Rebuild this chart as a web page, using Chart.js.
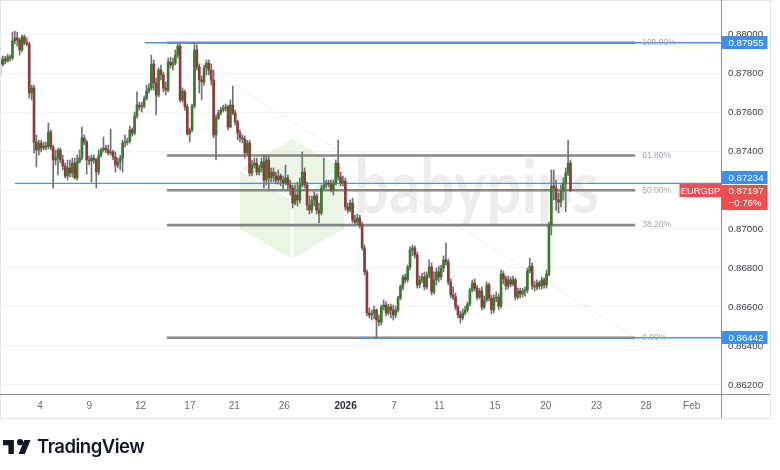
<!DOCTYPE html>
<html><head><meta charset="utf-8">
<script src="https://cdn.jsdelivr.net/npm/chart.js@4.4.1/dist/chart.umd.min.js"></script>
<style>
html,body{margin:0;padding:0;background:#fff;}
#wrap{position:relative;width:780px;height:470px;overflow:hidden;}
#c{position:absolute;left:0;top:0;}
#tv{position:absolute;left:3px;top:434px;height:24px;display:flex;align-items:center;color:#131722;}
#tv span{font-family:"Inter","Open Sans",sans-serif;font-weight:600;font-size:18.5px;letter-spacing:-0.5px;margin-left:6px;}
</style></head><body>
<div id="wrap">
<canvas id="c" width="780" height="470"></canvas>
<div id="tv"><svg width="28" height="15" viewBox="0 3 36 19"><path fill="#131722" d="M14 22H7V11H0V4h14v18zm8-11a4 4 0 1 0 0-8 4 4 0 0 0 0 8zM28 22h-8l7.5-18h8L28 22z"/></svg><span>TradingView</span></div>
</div>
<script>
// ---- candle data (EURGBP, intraday) ----
const openP = [
0.87867,0.87846,0.87872,0.87862,0.87882,0.87877,0.87964,0.87980,0.87969,0.87918,
0.87985,0.87954,0.87949,0.87697,0.87723,0.87446,0.87405,0.87441,0.87415,0.87426,
0.87421,0.87497,0.87421,0.87354,0.87364,0.87405,0.87354,0.87323,0.87272,0.87313,
0.87287,0.87338,0.87262,0.87344,0.87364,0.87467,0.87446,0.87354,0.87349,0.87364,
0.87354,0.87292,0.87379,0.87405,0.87415,0.87405,0.87390,0.87395,0.87369,0.87328,
0.87344,0.87364,0.87441,0.87446,0.87451,0.87508,0.87492,0.87580,0.87636,0.87626,
0.87631,0.87667,0.87708,0.87723,0.87846,0.87749,0.87687,0.87815,0.87790,0.87723,
0.87713,0.87856,0.87841,0.87851,0.87892,0.87938,0.87662,0.87703,0.87626,0.87487,
0.87508,0.87631,0.87918,0.87831,0.87764,0.87754,0.87826,0.87851,0.87815,0.87764,
0.87482,0.87569,0.87595,0.87610,0.87620,0.87626,0.87523,0.87636,0.87595,0.87549,
0.87492,0.87467,0.87462,0.87390,0.87441,0.87287,0.87328,0.87338,0.87292,0.87313,
0.87344,0.87251,0.87354,0.87262,0.87292,0.87272,0.87251,0.87272,0.87251,0.87236,
0.87262,0.87226,0.87210,0.87133,0.87174,0.87149,0.87226,0.87292,0.87226,0.87123,
0.87097,0.87149,0.87169,0.87097,0.87082,0.87210,0.87226,0.87236,0.87231,0.87200,
0.87236,0.87338,0.87267,0.87236,0.87246,0.87113,0.87097,0.87133,0.87046,0.87036,
0.87056,0.87021,0.86903,0.86780,0.86569,0.86559,0.86569,0.86585,0.86533,0.86523,
0.86600,0.86610,0.86569,0.86600,0.86585,0.86559,0.86585,0.86646,0.86703,0.86754,
0.86739,0.86805,0.86892,0.86903,0.86867,0.86713,0.86739,0.86754,0.86703,0.86764,
0.86805,0.86677,0.86739,0.86780,0.86754,0.86800,0.86841,0.86831,0.86728,0.86662,
0.86651,0.86600,0.86559,0.86544,0.86569,0.86585,0.86615,0.86687,0.86723,0.86697,
0.86651,0.86682,0.86600,0.86636,0.86713,0.86646,0.86585,0.86646,0.86651,0.86605,
0.86769,0.86744,0.86708,0.86739,0.86718,0.86739,0.86651,0.86682,0.86667,0.86682,
0.86687,0.86785,0.86810,0.86708,0.86703,0.86723,0.86708,0.86739,0.86713,0.86769,
0.87021,0.87221,0.87210,0.87149,0.87138,0.87195,0.87236,0.87287,0.87338];
const highP = [
0.87882,0.87887,0.87887,0.87897,0.87892,0.88010,0.88015,0.88010,0.87980,0.87995,
0.87995,0.87980,0.87959,0.87738,0.87738,0.87482,0.87456,0.87456,0.87446,0.87446,
0.87544,0.87508,0.87431,0.87405,0.87415,0.87415,0.87379,0.87338,0.87354,0.87354,
0.87364,0.87364,0.87379,0.87405,0.87523,0.87482,0.87456,0.87374,0.87379,0.87379,
0.87364,0.87405,0.87415,0.87472,0.87431,0.87431,0.87513,0.87405,0.87395,0.87364,
0.87379,0.87456,0.87482,0.87467,0.87528,0.87518,0.87600,0.87703,0.87651,0.87651,
0.87682,0.87738,0.87744,0.87892,0.87867,0.87774,0.87826,0.87841,0.87805,0.87754,
0.87877,0.87882,0.87877,0.87918,0.87949,0.87949,0.87723,0.87713,0.87641,0.87518,
0.87641,0.87955,0.87944,0.87846,0.87785,0.87841,0.87867,0.87867,0.87846,0.87815,
0.87585,0.87610,0.87626,0.87636,0.87641,0.87636,0.87662,0.87733,0.87610,0.87559,
0.87508,0.87482,0.87477,0.87456,0.87456,0.87354,0.87364,0.87364,0.87328,0.87364,
0.87379,0.87379,0.87374,0.87313,0.87313,0.87292,0.87303,0.87282,0.87272,0.87328,
0.87277,0.87251,0.87226,0.87226,0.87241,0.87262,0.87395,0.87313,0.87241,0.87169,
0.87169,0.87190,0.87180,0.87133,0.87226,0.87364,0.87251,0.87251,0.87251,0.87251,
0.87354,0.87456,0.87292,0.87272,0.87262,0.87133,0.87149,0.87159,0.87072,0.87077,
0.87072,0.87036,0.86918,0.86790,0.86595,0.86585,0.86605,0.86590,0.86559,0.86610,
0.86636,0.86626,0.86615,0.86615,0.86610,0.86605,0.86656,0.86713,0.86764,0.86769,
0.86815,0.86908,0.86918,0.86913,0.86882,0.86759,0.86774,0.86780,0.86780,0.86841,
0.86826,0.86780,0.86800,0.86810,0.86815,0.86862,0.86928,0.86846,0.86744,0.86703,
0.86672,0.86610,0.86580,0.86590,0.86605,0.86626,0.86697,0.86739,0.86744,0.86713,
0.86697,0.86703,0.86656,0.86728,0.86723,0.86662,0.86662,0.86677,0.86667,0.86790,
0.86785,0.86759,0.86759,0.86754,0.86759,0.86749,0.86697,0.86697,0.86697,0.86703,
0.86800,0.86851,0.86826,0.86733,0.86739,0.86733,0.86754,0.86749,0.86790,0.87036,
0.87303,0.87303,0.87251,0.87185,0.87226,0.87262,0.87313,0.87456,0.87354];
const lowP = [
0.87790,0.87836,0.87846,0.87856,0.87862,0.87867,0.87949,0.87938,0.87892,0.87908,
0.87944,0.87938,0.87672,0.87662,0.87390,0.87318,0.87379,0.87395,0.87405,0.87405,
0.87410,0.87405,0.87210,0.87328,0.87277,0.87338,0.87303,0.87262,0.87251,0.87267,
0.87267,0.87256,0.87251,0.87338,0.87354,0.87431,0.87282,0.87328,0.87241,0.87338,
0.87210,0.87277,0.87369,0.87395,0.87390,0.87379,0.87379,0.87354,0.87292,0.87313,
0.87303,0.87292,0.87421,0.87431,0.87441,0.87477,0.87482,0.87569,0.87610,0.87600,
0.87620,0.87662,0.87697,0.87713,0.87713,0.87585,0.87677,0.87764,0.87703,0.87687,
0.87703,0.87826,0.87815,0.87841,0.87877,0.87651,0.87651,0.87610,0.87482,0.87446,
0.87497,0.87620,0.87815,0.87697,0.87662,0.87738,0.87790,0.87790,0.87738,0.87467,
0.87354,0.87559,0.87585,0.87600,0.87605,0.87508,0.87518,0.87585,0.87533,0.87456,
0.87446,0.87441,0.87364,0.87379,0.87272,0.87272,0.87313,0.87277,0.87277,0.87292,
0.87210,0.87226,0.87200,0.87241,0.87241,0.87231,0.87231,0.87221,0.87200,0.87226,
0.87200,0.87174,0.87108,0.87123,0.87118,0.87133,0.87215,0.87210,0.87097,0.87077,
0.87082,0.87118,0.87077,0.87031,0.87072,0.87200,0.87210,0.87215,0.87190,0.87174,
0.87226,0.87251,0.87221,0.87221,0.87097,0.87082,0.87087,0.87031,0.87021,0.87021,
0.87005,0.86892,0.86764,0.86554,0.86544,0.86533,0.86539,0.86442,0.86503,0.86508,
0.86585,0.86554,0.86559,0.86544,0.86533,0.86544,0.86574,0.86636,0.86687,0.86723,
0.86728,0.86790,0.86862,0.86851,0.86697,0.86697,0.86723,0.86687,0.86692,0.86749,
0.86662,0.86667,0.86713,0.86728,0.86739,0.86780,0.86815,0.86713,0.86646,0.86636,
0.86585,0.86544,0.86518,0.86533,0.86559,0.86574,0.86605,0.86677,0.86682,0.86636,
0.86641,0.86585,0.86590,0.86626,0.86631,0.86564,0.86569,0.86626,0.86585,0.86595,
0.86718,0.86687,0.86692,0.86703,0.86708,0.86636,0.86641,0.86646,0.86651,0.86656,
0.86672,0.86774,0.86692,0.86682,0.86687,0.86692,0.86692,0.86697,0.86697,0.86759,
0.86969,0.87149,0.87097,0.87082,0.87113,0.87149,0.87087,0.87272,0.87190];
const closeP = [
0.87846,0.87872,0.87862,0.87882,0.87877,0.87964,0.87980,0.87969,0.87918,0.87985,
0.87954,0.87949,0.87697,0.87723,0.87446,0.87405,0.87441,0.87415,0.87426,0.87421,
0.87497,0.87421,0.87354,0.87364,0.87405,0.87354,0.87323,0.87272,0.87313,0.87287,
0.87338,0.87262,0.87344,0.87364,0.87467,0.87446,0.87354,0.87349,0.87364,0.87354,
0.87292,0.87379,0.87405,0.87415,0.87405,0.87390,0.87395,0.87369,0.87328,0.87344,
0.87364,0.87441,0.87446,0.87451,0.87508,0.87492,0.87580,0.87636,0.87626,0.87631,
0.87667,0.87708,0.87723,0.87846,0.87749,0.87687,0.87815,0.87790,0.87723,0.87713,
0.87856,0.87841,0.87851,0.87892,0.87938,0.87662,0.87708,0.87626,0.87487,0.87508,
0.87631,0.87918,0.87831,0.87764,0.87754,0.87826,0.87851,0.87815,0.87764,0.87482,
0.87569,0.87595,0.87610,0.87620,0.87626,0.87523,0.87636,0.87595,0.87549,0.87492,
0.87467,0.87462,0.87390,0.87441,0.87287,0.87328,0.87338,0.87292,0.87313,0.87344,
0.87251,0.87354,0.87262,0.87292,0.87272,0.87251,0.87272,0.87251,0.87236,0.87262,
0.87226,0.87210,0.87133,0.87174,0.87149,0.87226,0.87292,0.87226,0.87123,0.87097,
0.87149,0.87169,0.87097,0.87082,0.87210,0.87226,0.87236,0.87231,0.87200,0.87236,
0.87338,0.87267,0.87236,0.87246,0.87113,0.87097,0.87133,0.87046,0.87036,0.87056,
0.87021,0.86903,0.86780,0.86569,0.86559,0.86569,0.86585,0.86533,0.86523,0.86600,
0.86610,0.86569,0.86600,0.86585,0.86559,0.86585,0.86646,0.86703,0.86754,0.86739,
0.86805,0.86892,0.86903,0.86867,0.86713,0.86739,0.86754,0.86703,0.86764,0.86805,
0.86677,0.86739,0.86780,0.86754,0.86800,0.86841,0.86831,0.86728,0.86662,0.86651,
0.86600,0.86559,0.86544,0.86569,0.86585,0.86615,0.86687,0.86723,0.86697,0.86651,
0.86682,0.86600,0.86636,0.86713,0.86646,0.86585,0.86646,0.86651,0.86605,0.86769,
0.86744,0.86708,0.86739,0.86718,0.86739,0.86651,0.86682,0.86667,0.86682,0.86687,
0.86785,0.86810,0.86708,0.86703,0.86723,0.86708,0.86739,0.86713,0.86769,0.87021,
0.87221,0.87210,0.87149,0.87138,0.87195,0.87236,0.87287,0.87338,0.87197];

// ---- axis tick data ----
const dateTickIndex  = [16.5, 37.1, 58.5, 79.1, 97.6, 118.5, 144.1, 164.3, 183.2, 206.5, 227.7, 248.9, 269.5, 288.6];
const dateTickLabels = ['4','9','12','17','21','26','2026','7','11','15','20','23','28','Feb'];
const priceTicks = [0.862, 0.864, 0.866, 0.868, 0.870, 0.872, 0.874, 0.876, 0.878, 0.880];

// ---- drawings ----
const fibHigh = 0.87955, fibLow = 0.86442;
const fibRatios = [1, 0.618, 0.5, 0.382, 0];
const fibLabels = ['100.00%','61.80%','50.00%','38.20%','0.00%'];
const fibFrom = 69.5, fibTo = 265;
const hLinePrices = [0.87955, 0.87234, 0.86442];
const hLineFrom   = [60.3, 6.1, 149.3];
const symbol = 'EURGBP', lastPrice = 0.87197, changeText = '\u22120.76%';

const X_MIN = -0.2, X_MAX = 300.84;
const Y_MIN = 0.861538, Y_MAX = 0.881744;

const N = closeP.length;
const idx = Array.from({length: N}, (_, i) => i);
const UP = '#3a7a2c', DOWN = '#8e3a3a', WICK = '#727272';
const isUp = i => closeP[i] >= openP[i];
const fibLevels = fibRatios.map(r => fibLow + r * (fibHigh - fibLow));
const AXIS_FONT = '"Liberation Sans", Arial, sans-serif';

const lineDs = (pts, color, width, order) => ({
  type: 'line', data: pts, borderColor: color, borderWidth: width,
  pointRadius: 0, fill: false, order: order, tension: 0
});

const datasets = [];
datasets.push(lineDs([{x: fibFrom, y: fibHigh}, {x: fibTo, y: fibLow}], 'rgba(150,170,220,0.18)', 1, 30));
fibLevels.forEach(l => datasets.push(lineDs([{x: fibFrom, y: l}, {x: fibTo, y: l}], 'rgba(115,115,115,0.85)', 2.6, 20)));
hLinePrices.forEach((p, k) => datasets.push(lineDs([{x: hLineFrom[k], y: p}, {x: X_MAX, y: p}], '#4d94e6', 1.4, 10)));
datasets.push({
  type: 'bar', data: idx.map(i => ({x: i, y: [lowP[i], highP[i]]})),
  backgroundColor: WICK, barThickness: 1, grouped: false, order: 2
});
datasets.push({
  type: 'bar', data: idx.map(i => ({x: i, y: [openP[i], closeP[i]]})),
  backgroundColor: idx.map(i => isUp(i) ? UP : DOWN),
  barThickness: 2, minBarLength: 1, grouped: false, order: 1
});

function tag(ctx, text, yc, bg, x0, w, h, align) {
  ctx.fillStyle = bg;
  ctx.fillRect(x0, Math.round(yc - h / 2), w, h);
  ctx.fillStyle = '#fff';
  ctx.textBaseline = 'middle';
  ctx.textAlign = align || 'left';
  ctx.fillText(text, align === 'center' ? x0 + w / 2 : x0 + 7, yc + 0.5);
}

const overlay = {
  id: 'overlay',
  beforeDatasetsDraw(chart) {
    const ctx = chart.ctx;
    ctx.save();
    // babypips watermark
    const cx = 292, cy = 199, R = 60;
    ctx.beginPath();
    for (let k = 0; k < 6; k++) {
      const a = Math.PI / 180 * (60 * k - 90);
      const px = cx + R * Math.cos(a), py = cy + R * Math.sin(a);
      k ? ctx.lineTo(px, py) : ctx.moveTo(px, py);
    }
    ctx.closePath();
    ctx.fillStyle = 'rgba(200,230,190,0.38)';
    ctx.fill();
    ctx.strokeStyle = 'rgba(255,255,255,0.8)';
    ctx.lineWidth = 3;
    ctx.beginPath();
    ctx.moveTo(cx, cy); ctx.lineTo(cx, cy + R);
    ctx.moveTo(cx, cy); ctx.lineTo(cx - R * 0.866, cy - R / 2);
    ctx.moveTo(cx, cy); ctx.lineTo(cx + R * 0.866, cy - R / 2);
    ctx.stroke();
    ctx.font = 'bold 74px "Lato", "DejaVu Sans", sans-serif';
    ctx.fillStyle = 'rgba(0,0,0,0.07)';
    ctx.textBaseline = 'alphabetic';
    ctx.textAlign = 'left';
    const w = ctx.measureText('babypips').width;
    ctx.translate(354, 213);
    ctx.scale(245 / w, 1);
    ctx.fillText('babypips', 0, 0);
    ctx.restore();
  },
  afterDraw(chart) {
    const ctx = chart.ctx, x = chart.scales.x, y = chart.scales.y;
    ctx.save();
    // fib labels
    ctx.font = '8.5px ' + AXIS_FONT;
    ctx.fillStyle = '#a3a6ae';
    ctx.textBaseline = 'middle';
    ctx.textAlign = 'left';
    fibLevels.forEach((l, k) => ctx.fillText(fibLabels[k], x.getPixelForValue(fibTo) + 7, y.getPixelForValue(l)));
    // frame and axis lines
    ctx.strokeStyle = '#e3e4e8'; ctx.lineWidth = 1;
    ctx.strokeRect(0.5, 0.5, 770, 418);
    ctx.strokeStyle = '#8f9096';
    ctx.beginPath();
    ctx.moveTo(x.right + 0.5, 0); ctx.lineTo(x.right + 0.5, 418);
    ctx.moveTo(0, y.bottom + 0.5); ctx.lineTo(770, y.bottom + 0.5);
    ctx.stroke();
    // price tags
    ctx.font = '9.7px ' + AXIS_FONT;
    const BLUE = '#3b8ff0', RED = '#f04e4e';
    const ax = x.right + 0.5, aw = 46;
    tag(ctx, hLinePrices[0].toFixed(5), y.getPixelForValue(hLinePrices[0]), BLUE, ax, aw, 13);
    tag(ctx, hLinePrices[2].toFixed(5), y.getPixelForValue(hLinePrices[2]), BLUE, ax, aw, 13);
    const py = y.getPixelForValue(lastPrice);
    tag(ctx, hLinePrices[1].toFixed(5), py - 13, BLUE, ax, aw, 13);
    ctx.fillStyle = RED;
    ctx.fillRect(ax, Math.round(py - 6), aw, 25);
    ctx.fillStyle = '#fff';
    ctx.textAlign = 'left';
    ctx.fillText(lastPrice.toFixed(5), ax + 7, py + 0.5);
    ctx.fillText(changeText, ax + 7, py + 12.5);
    ctx.font = '9.3px ' + AXIS_FONT;
    tag(ctx, symbol, py, RED, ax - 42, 42, 13, 'center');
    ctx.restore();
  }
};

new Chart(document.getElementById('c'), {
  type: 'bar',
  data: {datasets},
  options: {
    responsive: false, animation: false,
    layout: {padding: {left: 0, top: 0, right: 10, bottom: 52}},
    plugins: {legend: {display: false}, tooltip: {enabled: false}},
    scales: {
      x: {
        type: 'linear', min: X_MIN, max: X_MAX, offset: false,
        grid: {display: false, drawTicks: false}, border: {display: false},
        afterBuildTicks: s => { s.ticks = dateTickIndex.map(v => ({value: v})); },
        afterFit: s => { s.height = 24; s.paddingLeft = 0; s.paddingRight = 0; },
        ticks: {
          autoSkip: false, maxRotation: 0, padding: 6,
          callback: (v, i) => dateTickLabels[i],
          color: c => c.index === 6 ? '#2a2e39' : '#6a6d78',
          font: c => ({family: AXIS_FONT, size: 10, weight: c.index === 6 ? '600' : '400'})
        }
      },
      y: {
        position: 'right', min: Y_MIN, max: Y_MAX,
        grid: {color: '#f2f3f5', drawTicks: false}, border: {display: false},
        afterBuildTicks: s => { s.ticks = priceTicks.map(v => ({value: v})); },
        afterFit: s => { s.width = 49; s.paddingTop = 0; s.paddingBottom = 0; },
        ticks: {
          padding: 7, color: '#3a3d45',
          font: {family: AXIS_FONT, size: 9.7},
          callback: v => Number(v).toFixed(5)
        }
      }
    }
  },
  plugins: [overlay]
});
</script>
</body></html>
